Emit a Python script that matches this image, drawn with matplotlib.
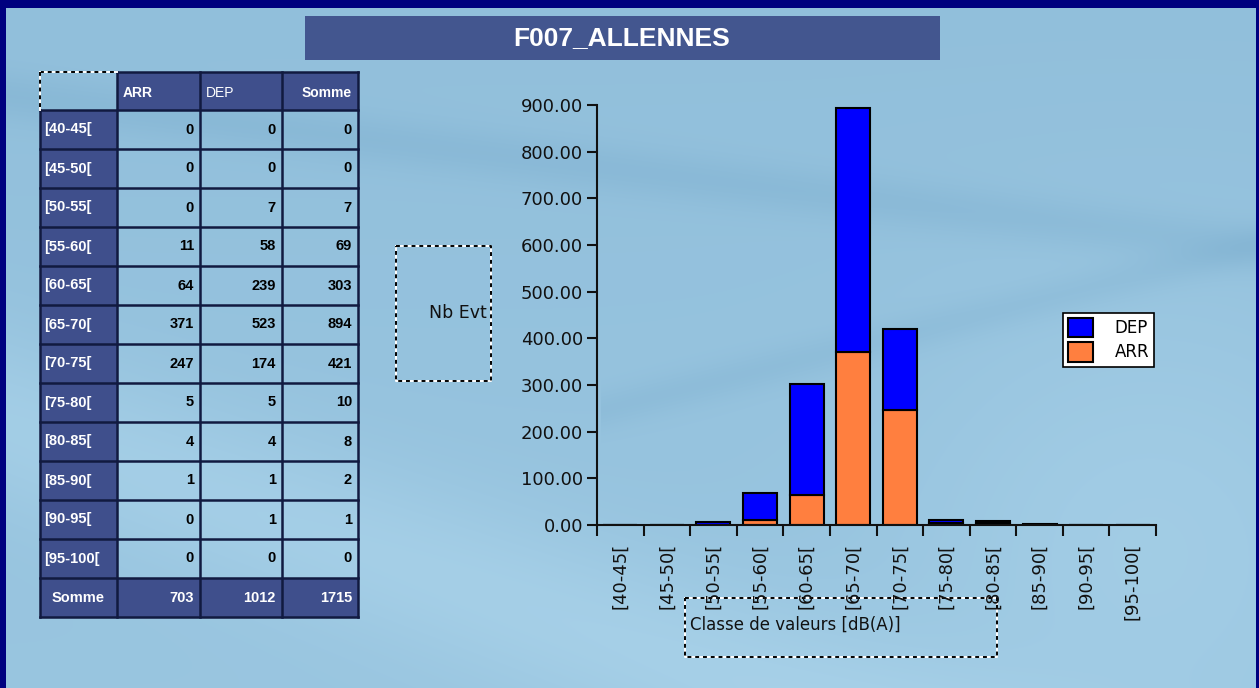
import numpy as np
import matplotlib
matplotlib.use('Agg')
import matplotlib.pyplot as plt
from matplotlib.patches import Rectangle
from matplotlib.ticker import FixedLocator, FormatStrFormatter, NullFormatter

# ---------------- data ----------------
title = 'F007_ALLENNES'
classes = ['[40-45[', '[45-50[', '[50-55[', '[55-60[', '[60-65[', '[65-70[',
           '[70-75[', '[75-80[', '[80-85[', '[85-90[', '[90-95[', '[95-100[']
arr = [0, 0, 0, 11, 64, 371, 247, 5, 4, 1, 0, 0]
dep = [0, 0, 7, 58, 239, 523, 174, 5, 4, 1, 1, 0]
col_headers = ['ARR', 'DEP', 'Somme']
total_label = 'Somme'
y_ticks = [0, 100, 200, 300, 400, 500, 600, 700, 800, 900]
y_label = 'Nb Evt'
x_label = 'Classe de valeurs [dB(A)]'

W, H = 1259, 688
fig = plt.figure(figsize=(W / 100, H / 100), dpi=100)

# ---------------- background canvas (pixel coords) ----------------
bg = fig.add_axes([0, 0, 1, 1], zorder=-10)
yy, xx = np.mgrid[0:H, 0:W].astype(float)
base = np.array([0.57, 0.75, 0.86])
light = np.zeros((H, W))
light += 0.05 * np.exp(-((yy - 0.35 * xx - 420) / 90.0) ** 2)
light += 0.04 * np.exp(-(((xx - 1150) ** 2 + (yy - 520) ** 2) / 60000.0))
light -= 0.035 * np.exp(-((yy - 0.12 * xx - 95) / 25.0) ** 2)
light -= 0.03 * np.exp(-((yy + 0.25 * xx - 560) / 20.0) ** 2) * (xx > 600)
light += 0.03 * (yy / H)
img = np.clip(base[None, None, :] + light[:, :, None] * np.array([1.0, 0.8, 0.6]), 0, 1)
bg.imshow(img, extent=[0, W, H, 0], aspect='auto', interpolation='bilinear')
bg.set_xlim(0, W)
bg.set_ylim(H, 0)
bg.axis('off')

navy = '#00007f'
for (x0, y0, w, h) in [(0, 0, W, 8), (0, 0, 6, H), (W - 3, 0, 3, H)]:
    bg.add_patch(Rectangle((x0, y0), w, h, facecolor=navy, edgecolor='none', zorder=5))

# title banner
bg.add_patch(Rectangle((305, 16), 635, 44, facecolor='#43568f', edgecolor='none', zorder=2))
bg.text(622, 38, title, color='white', fontsize=19, fontweight='bold',
        family='Liberation Sans', ha='center', va='center', zorder=3)

# ---------------- table ----------------
cell_dark = '#3f4f8c'
grid_c = '#111a40'
col_x = [40, 117, 200, 282, 358]
header_top, header_bot = 72, 110
row_h = 39.0
n = len(classes)
rows_top = [header_bot + i * row_h for i in range(n)]
sum_top = header_bot + n * row_h
sum_bot = sum_top + 39
tf = 'Liberation Sans'
fs_tab = 10.5

# header cells
for j in range(3):
    bg.add_patch(Rectangle((col_x[j + 1], header_top), col_x[j + 2] - col_x[j + 1],
                           header_bot - header_top, facecolor=cell_dark, edgecolor='none', zorder=2))
bg.text(col_x[1] + 6, 93, col_headers[0], color='white', fontsize=10, family=tf,
        fontweight='bold', ha='left', va='center', zorder=3)
bg.text(col_x[2] + 6, 93, col_headers[1], color='white', fontsize=10, family=tf,
        ha='left', va='center', zorder=3)
bg.text(col_x[4] - 6, 93, col_headers[2], color='white', fontsize=10, family=tf,
        fontweight='bold', ha='right', va='center', zorder=3)

# row label cells and data
for i, lab in enumerate(classes):
    t = rows_top[i]
    bg.add_patch(Rectangle((col_x[0], t), col_x[1] - col_x[0], row_h,
                           facecolor=cell_dark, edgecolor='none', zorder=2))
    bg.text(col_x[0] + 4, t + row_h / 2, lab, color='white', fontsize=fs_tab, family=tf,
            fontweight='bold', ha='left', va='center', zorder=3)
    vals = [arr[i], dep[i], arr[i] + dep[i]]
    for j, v in enumerate(vals):
        bg.text(col_x[j + 2] - 6, t + row_h / 2, str(v), color='black', fontsize=fs_tab,
                family=tf, fontweight='bold', ha='right', va='center', zorder=3)

# total row
bg.add_patch(Rectangle((col_x[0], sum_top), col_x[4] - col_x[0], sum_bot - sum_top,
                       facecolor=cell_dark, edgecolor='none', zorder=2))
bg.text((col_x[0] + col_x[1]) / 2, (sum_top + sum_bot) / 2, total_label, color='white',
        fontsize=fs_tab, family=tf, fontweight='bold', ha='center', va='center', zorder=3)
totals = [sum(arr), sum(dep), sum(arr) + sum(dep)]
for j, v in enumerate(totals):
    bg.text(col_x[j + 2] - 6, (sum_top + sum_bot) / 2, str(v), color='white', fontsize=fs_tab,
            family=tf, fontweight='bold', ha='right', va='center', zorder=3)

# grid lines
hlines = [header_top] + [header_bot + i * row_h for i in range(n + 1)] + [sum_bot]
for k, yv in enumerate(hlines):
    x_start = col_x[1] if k == 0 else col_x[0]
    bg.plot([x_start, col_x[4]], [yv, yv], color=grid_c, lw=1.8, zorder=4)
for k, xv in enumerate(col_x):
    y_start = header_bot if k == 0 else header_top
    bg.plot([xv, xv], [y_start, sum_bot], color=grid_c, lw=1.8, zorder=4)
# dotted corner of the empty top-left cell
bg.plot([col_x[0], col_x[1]], [header_top, header_top], color='white', lw=1.4, zorder=4)
bg.plot([col_x[0], col_x[1]], [header_top, header_top], color='black', lw=1.4,
        ls=(0, (2, 2)), zorder=4)
bg.plot([col_x[0], col_x[0]], [header_top, header_bot], color='white', lw=1.4, zorder=4)
bg.plot([col_x[0], col_x[0]], [header_top, header_bot], color='black', lw=1.4,
        ls=(0, (2, 2)), zorder=4)


def dotted_box(x0, y0, x1, y1):
    xs = [x0, x1, x1, x0, x0]
    ys = [y0, y0, y1, y1, y0]
    bg.plot(xs, ys, color='white', lw=1.4, zorder=4)
    bg.plot(xs, ys, color='black', lw=1.4, ls=(0, (2, 2)), zorder=4)


# y-label box
dotted_box(396, 246, 491, 381)
bg.text(487, 313, y_label, fontsize=12.5, family='DejaVu Sans', color='#111111',
        ha='right', va='center', zorder=4)

# x-label box
dotted_box(685, 598, 997, 657)
bg.text(690, 625, x_label, fontsize=12, family='DejaVu Sans', color='#111111',
        ha='left', va='center', zorder=4)

# ---------------- chart ----------------
ax = fig.add_axes([597 / W, 1 - 525 / H, (1156 - 597) / W, (525 - 105) / H])
ax.set_facecolor('none')
x = np.arange(len(classes))
c_arr = '#ff7f3f'
c_dep = '#0000ff'
b_arr = ax.bar(x, arr, width=0.73, color=c_arr, edgecolor='black', linewidth=1.5,
               label='ARR', zorder=3)
b_dep = ax.bar(x, dep, bottom=arr, width=0.73, color=c_dep, edgecolor='black',
               linewidth=1.5, label='DEP', zorder=3)
ax.set_xlim(-0.5, len(classes) - 0.5)
ax.set_ylim(0, 900)
for s in ['top', 'right']:
    ax.spines[s].set_visible(False)
for s in ['left', 'bottom']:
    ax.spines[s].set_linewidth(1.5)
    ax.spines[s].set_color('#111111')
    ax.spines[s].set_zorder(4)
ax.yaxis.set_major_locator(FixedLocator(y_ticks))
ax.yaxis.set_major_formatter(FormatStrFormatter('%.2f'))
ax.tick_params(axis='y', length=7, width=1.5, pad=3, labelsize=13, colors='#111111')
ax.set_xticks(x)
ax.set_xticklabels(classes, rotation=90, ha='center', va='top')
ax.xaxis.set_minor_locator(FixedLocator(np.arange(-0.5, len(classes), 1.0)))
ax.xaxis.set_minor_formatter(NullFormatter())
ax.tick_params(axis='x', which='major', length=0, pad=13, labelsize=13, colors='#111111')
ax.tick_params(axis='x', which='minor', length=8, width=1.5, color='#111111')
for lab in ax.get_xticklabels() + ax.get_yticklabels():
    lab.set_family('DejaVu Sans')

leg = fig.legend([b_dep, b_arr], ['DEP', 'ARR'], loc='upper left',
                 bbox_to_anchor=(1063 / W, 1 - 313 / H), fontsize=12,
                 frameon=True, fancybox=False, edgecolor='black', framealpha=1,
                 handlelength=1.5, handleheight=1.4, handletextpad=1.3,
                 borderpad=0.3, labelspacing=0.3, borderaxespad=0)
leg.get_frame().set_linewidth(1.2)

fig.savefig('out.png', dpi=100)
